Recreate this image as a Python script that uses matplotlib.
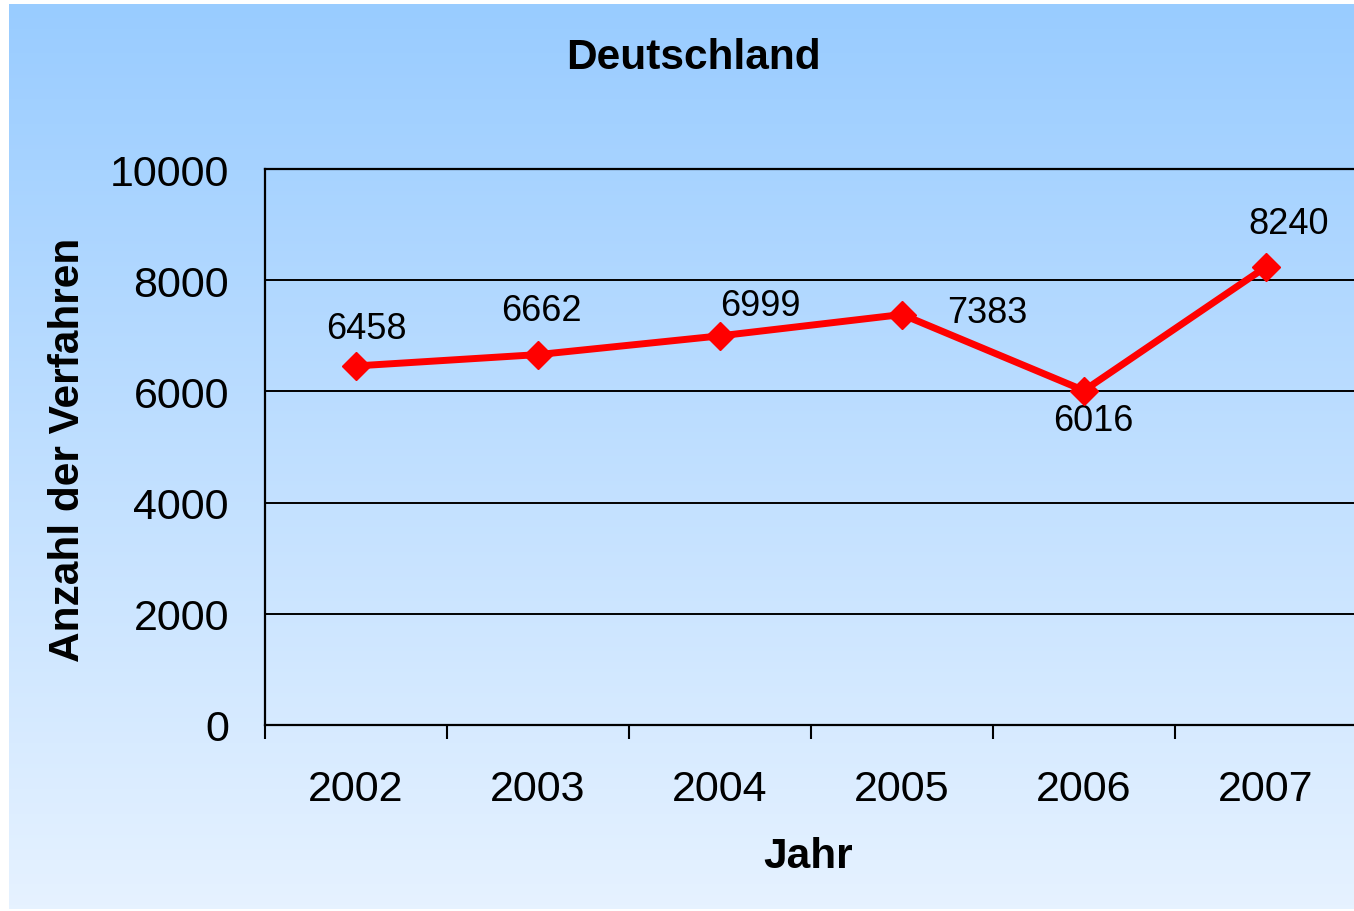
import matplotlib
matplotlib.use("Agg")
import matplotlib.pyplot as plt
import numpy as np
from matplotlib.colors import LinearSegmentedColormap

years = ["2002", "2003", "2004", "2005", "2006", "2007"]
verfahren = [6458, 6662, 6999, 7383, 6016, 8240]
y_ticks = [0, 2000, 4000, 6000, 8000, 10000]

# label offsets in pixels (dx, dy) relative to each marker
label_offsets = [(10, 37), (3, 44), (40, 30), (85, 2), (9, -30), (23, 43)]

plt.rcParams['font.family'] = ['Liberation Sans', 'DejaVu Sans']

fig = plt.figure(figsize=(13.54, 9.12), dpi=100)
fig.patch.set_facecolor('white')

# gradient background
bg = fig.add_axes([9 / 1354, 2 / 912, 1 - 9 / 1354, 1 - 7 / 912])
cmap = LinearSegmentedColormap.from_list('bg', ['#99CCFF', '#E6F2FF'])
grad = np.linspace(0, 1, 256).reshape(-1, 1)
bg.imshow(grad, aspect='auto', cmap=cmap, extent=[0, 1, 0, 1], origin='upper')
bg.set_axis_off()

ax = fig.add_axes([265 / 1354, 1 - 726 / 912, 1092 / 1354, 556 / 912])
ax.patch.set_alpha(0)

x = np.arange(len(years)) + 0.5
ax.plot(x, verfahren, color='#FF0000', lw=5, marker='D', ms=14,
        markerfacecolor='#FF0000', markeredgecolor='#FF0000', zorder=5, clip_on=False)

for xi, v, (dx, dy) in zip(x, verfahren, label_offsets):
    ax.annotate(str(v), (xi, v), xytext=(dx, dy), textcoords='offset pixels',
                ha='center', va='center', fontsize=26, color='black')

ax.set_xlim(0, len(years))
ax.set_ylim(0, 10000)
ax.set_yticks(y_ticks)
ax.set_yticklabels([str(t) for t in y_ticks])
ax.yaxis.grid(True, color='black', lw=1.4)
ax.set_axisbelow(True)

ax.set_xticks(np.arange(len(years) + 1))
ax.set_xticklabels([])
ax.set_xticks(x, minor=True)
ax.set_xticklabels(years, minor=True)
ax.tick_params(axis='x', which='major', length=10, width=1.5, direction='out', color='black')
ax.tick_params(axis='x', which='minor', length=0, pad=32, labelsize=31)
ax.tick_params(axis='y', length=0, pad=26, labelsize=31)

for s in ['left', 'top', 'bottom']:
    ax.spines[s].set_linewidth(1.6)
    ax.spines[s].set_color('black')
ax.spines['right'].set_visible(False)

fig.text(693 / 1354, 1 - 58 / 912, 'Deutschland', ha='center', va='center',
         fontsize=30.5, fontweight='bold')
fig.text(808 / 1354, 1 - 857 / 912, 'Jahr', ha='center', va='center',
         fontsize=30.5, fontweight='bold')
fig.text(68 / 1354, 1 - 450 / 912, 'Anzahl der Verfahren', ha='center', va='center',
         fontsize=30.5, fontweight='bold', rotation=90)

fig.savefig('out.png', dpi=100)
